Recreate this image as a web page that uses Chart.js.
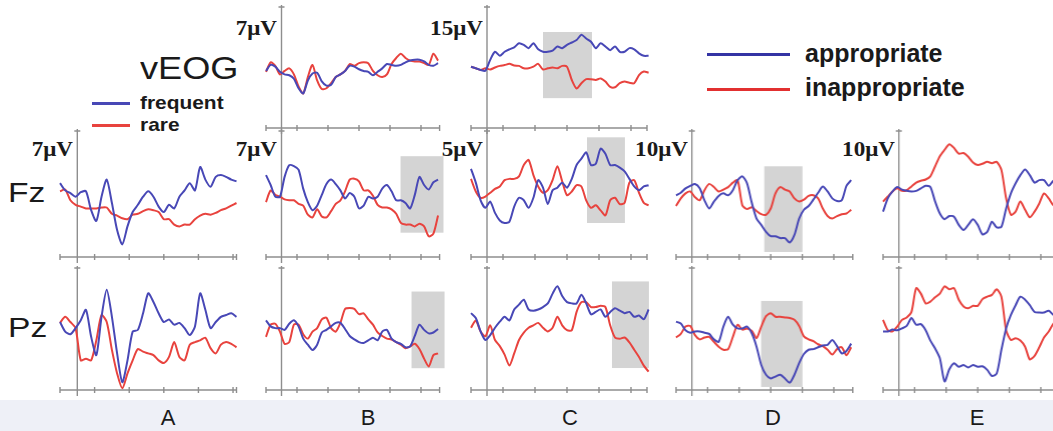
<!DOCTYPE html>
<html>
<head>
<meta charset="utf-8">
<title>ERP frequent/rare, appropriate/inappropriate</title>
<script src="https://cdn.jsdelivr.net/npm/chart.js@4.4.1/dist/chart.umd.min.js"></script>
<style>
  html, body { margin: 0; padding: 0; background: #fff; }
  #fig { position: relative; width: 1053px; height: 431px; overflow: hidden; background: #fff; font-family: "Liberation Sans", Arial, sans-serif; color: #1a1a1a; }
  .panel { position: absolute; }
  .lbl { position: absolute; white-space: nowrap; }
  .scale { font: bold 21px "Liberation Serif", "Times New Roman", serif; text-align: right; width: 70px; line-height: 22px; transform: scaleX(1.1); transform-origin: right center; }
  .row { font-size: 28px; line-height: 30px; transform: scaleX(1.2); transform-origin: left center; }
  .leg { font-weight: bold; }
  .sw { position: absolute; height: 3px; }
  .foot { position: absolute; left: 0; top: 400px; width: 1053px; height: 31px; background: #eef0f7; }
  .col { font-size: 22px; line-height: 24px; width: 40px; text-align: center; }
</style>
</head>
<body>
<div id="fig"></div>
<script>
// time points (ms), shared by every trace
const times = [-100, -70, -40, -10, 20, 50, 80, 110, 140, 170, 200, 230, 260, 290, 320, 350, 380, 410, 440, 470,
  500, 530, 560, 590, 620, 650, 680, 710, 740, 770, 800, 830, 860, 890, 920, 950, 980, 1010];
const xTicks = [-100, 0, 100, 300, 500, 700, 900];

// column A: frequent (blue) vs rare (red), µV
const fzA_frequent = [1.2, 0.4, 0.1, -0.3, 0.2, 0.3, -1.8, -3.0, -0.3, 1.6, -1.0, -4.0, -5.6, -3.6, -2.0, -1.2, -0.3, 0.3, -0.3, -1.4, -2.0, -1.2, -1.6, -0.3, 0.4, 1.2, 0.4, 3.0, 1.6, 0.8, 1.9, 2.1, 1.9, 1.6, 1.4];
const fzA_rare = [0.3, 0.5, -0.7, -1.2, -1.4, -1.6, -1.6, -1.6, -1.5, -1.5, -2.2, -2.4, -2.7, -2.8, -2.3, -2.2, -1.9, -1.7, -1.8, -2.0, -2.8, -2.8, -3.4, -3.6, -3.4, -3.4, -2.8, -2.4, -2.2, -2.3, -2.1, -1.8, -1.6, -1.3, -1.0];
const pzA_frequent = [0.8, -0.3, -0.6, 0.1, 1.0, 2.2, -0.9, -3.0, 1.4, 4.5, 1.4, -2.8, -6.1, -3.6, -0.3, -0.1, 1.8, 4.1, 3.1, 1.8, 0.8, 1.1, 0.5, 0.7, 0.1, -0.7, 0.3, 4.1, 2.2, 0.1, 0.8, 1.4, 1.6, 1.8, 1.4];
const pzA_rare = [0.7, 1.4, 0.8, 0.1, -3.6, -3.4, -3.6, -1.3, 1.6, 0.8, -2.4, -5.1, -6.8, -5.1, -3.6, -2.3, -2.6, -2.8, -3.0, -3.6, -3.9, -3.2, -1.5, -3.2, -3.6, -1.8, -1.5, -1.3, -1.0, -2.2, -2.8, -1.8, -1.5, -1.7, -2.1];

// columns B-E: appropriate (blue) vs inappropriate (red), µV
const veogB_appr = [-0.4, 0.3, 0.1, -0.5, -0.8, -0.9, -1.3, -2.4, -3.0, -1.5, -0.7, -0.6, -1.6, -2.1, -2.0, -1.1, -0.8, -0.4, 0.2, 0.1, -0.2, -0.4, -0.5, -0.9, -0.5, -0.1, 0.4, 0.3, 0.2, 0.3, 0.6, 0.8, 0.9, 0.9, 0.7, 0.3, 0.2, 0.5];
const veogB_inappr = [-0.5, 0.6, 0.2, -0.8, -0.4, -0.1, -0.8, -2.2, -3.0, -1.1, 0.3, -1.5, -2.5, -2.4, -1.8, -1.1, -0.8, -0.4, 0.4, 0.2, 0.5, 0.6, 0.5, -0.4, -0.9, -1.1, -0.8, 0.4, 1.1, 1.6, 1.1, 0.8, 0.7, 0.7, 0.5, 0.3, 1.6, 0.8];
const veogC_appr = [0.2, -0.2, -0.6, -0.8, 1.9, 3.9, 2.9, 3.9, 4.5, 5.0, 6.0, 5.6, 4.8, 6.0, 4.5, 3.9, 3.9, 4.2, 5.2, 4.8, 5.6, 6.2, 6.8, 8.1, 7.2, 6.4, 4.8, 6.0, 5.2, 4.3, 5.2, 3.9, 3.9, 4.8, 4.5, 3.5, 2.9, 2.9];
const veogC_inappr = [0.2, -0.2, -0.6, -0.2, -0.5, 0.0, 0.4, 0.6, 0.9, 0.5, 0.4, -0.2, -0.2, 0.2, 0.9, -0.5, -0.2, 0.0, -0.2, 0.4, 0.2, -3.1, -5.2, -3.9, -2.9, -2.9, -3.1, -2.7, -3.5, -4.8, -4.9, -3.9, -3.5, -3.8, -3.9, -1.9, -1.0, -1.3];

const fzB_appr = [2.1, 1.0, -0.3, -0.3, 1.9, 3.2, 3.1, 2.7, 0.6, -0.9, -1.8, -1.3, -0.1, 1.1, 1.6, 1.1, 0.4, -0.5, 0.1, -0.3, -1.6, -1.3, -0.3, -0.5, -0.3, 0.6, 1.0, 0.3, -0.7, -0.7, -1.0, -1.6, -0.1, 1.9, 1.0, 0.5, 1.3, 1.6];
const fzB_inappr = [-0.9, 0.4, -0.1, -0.3, -0.6, -0.7, -0.7, -1.1, -1.3, -2.3, -2.6, -1.7, -2.5, -2.6, -1.9, -1.1, -0.7, 0.3, 1.6, 1.7, 1.4, 0.4, 0.4, -0.2, -1.2, -1.5, -1.5, -1.7, -2.2, -3.2, -3.4, -3.4, -3.6, -3.3, -3.6, -4.7, -4.4, -2.4];
const pzB_appr = [1.0, 0.3, 0.1, 0.1, -0.1, 0.6, 1.0, 0.3, -1.1, -1.8, -2.4, -1.8, -0.4, -0.1, 0.3, 0.7, 0.7, 0.0, -0.8, -1.2, -1.5, -1.6, -1.3, -1.0, -1.3, -0.3, -0.1, -1.1, -1.5, -1.7, -2.1, -2.0, -0.8, 0.5, -0.1, -0.5, -0.4, 0.0];
const pzB_inappr = [-0.9, 0.5, 0.6, -0.3, -1.7, -1.5, 0.5, 0.5, -0.6, -1.1, -0.3, 0.1, 1.1, 1.3, 0.1, -0.3, 0.7, 2.3, 2.4, 2.3, 1.7, 1.8, 1.1, 0.5, -0.4, -0.8, -1.1, -1.2, -1.5, -1.8, -2.2, -2.0, -1.7, -2.3, -3.4, -4.3, -3.0, -2.8];

const fzC_appr = [2.0, 0.9, -0.5, -1.1, -0.6, -1.5, -2.1, -2.3, -2.2, -1.0, -0.3, -0.5, -1.1, -0.3, 1.1, 0.5, -0.8, 0.3, 0.5, 0.9, 0.5, 1.2, 2.3, 2.8, 3.3, 2.3, 2.4, 3.6, 3.2, 2.3, 2.3, 2.1, 1.8, 1.2, 0.6, 0.3, 0.6, 0.7];
const fzC_inappr = [1.2, 0.2, -0.3, -0.2, 0.1, 0.4, 0.6, 1.1, 1.2, 1.2, 1.4, 2.3, 2.7, 1.5, 0.6, 0.1, 0.3, 1.1, 2.2, 1.0, -0.1, 0.2, 0.7, 0.6, -0.5, -1.1, -0.9, -1.3, -1.7, -0.5, -0.3, -0.8, -0.7, 0.9, 1.1, 0.1, -0.7, -0.9];
const pzC_appr = [1.3, 0.9, -0.2, -0.9, -0.5, 0.1, 0.6, 1.0, 0.7, 1.6, 2.0, 2.4, 1.6, 1.5, 1.6, 1.8, 2.1, 2.9, 3.5, 2.7, 2.2, 2.1, 2.1, 2.8, 2.1, 1.2, 1.4, 1.6, 1.0, 1.4, 1.7, 1.5, 1.3, 1.4, 1.0, 1.1, 0.8, 1.6];
const pzC_inappr = [0.1, 0.7, -0.2, -0.6, 0.3, -0.9, -1.4, -2.1, -3.0, -2.0, -0.9, -0.3, 0.1, 0.3, 0.5, 0.1, -0.2, 0.1, 1.0, 0.3, -0.1, -0.1, 1.4, 2.2, 2.2, 1.8, 1.8, 1.9, 1.8, 0.3, -0.7, -0.8, -0.7, -1.1, -1.7, -2.3, -3.0, -3.5];

const fzD_appr = [-0.2, 0.2, 0.9, 1.3, 1.6, 0.9, -1.0, -2.3, -1.2, -0.3, 0.1, -0.2, 0.6, 2.2, 2.8, 1.7, -1.4, -3.9, -4.9, -6.0, -6.7, -6.7, -7.0, -7.0, -7.7, -6.5, -3.9, -2.5, -1.9, -0.9, 0.2, 1.2, 0.4, -0.7, -1.1, -1.0, 1.3, 2.2];
const fzD_inappr = [-1.9, -0.7, 0.1, 0.4, -0.5, -1.0, 0.6, 1.6, 1.1, 0.4, 0.7, 1.1, 1.8, 2.2, -1.8, -2.4, -2.1, -2.7, -3.2, -3.3, -2.3, 0.1, 1.1, 0.7, 0.4, -0.7, -1.2, -0.9, -0.3, -0.2, -0.7, -2.3, -3.5, -3.9, -3.5, -3.2, -3.1, -2.5];
const pzD_appr = [1.2, 0.9, -0.2, -0.6, -0.4, -0.4, -0.6, -0.8, -1.7, -2.1, 0.4, 2.0, 0.7, 0.1, 0.1, 0.4, -0.7, -2.9, -5.9, -7.5, -8.1, -7.8, -7.5, -8.1, -8.8, -7.5, -5.6, -4.1, -3.4, -3.3, -3.0, -2.7, -2.6, -1.8, -2.8, -4.0, -3.6, -2.4];
const pzD_inappr = [-1.4, -0.8, 0.4, 0.5, -1.0, -1.7, -1.4, -1.3, -2.1, -2.9, -3.4, -3.3, -1.3, 0.7, -0.1, 0.1, -0.3, -1.5, 0.4, 2.1, 2.6, 2.0, 2.0, 1.9, 1.8, 1.5, 0.5, -1.2, -1.7, -2.0, -2.5, -2.8, -3.4, -4.2, -3.3, -3.0, -4.3, -3.0];

const fzE_appr = [-2.8, -0.7, 0.4, 1.1, 0.7, 0.5, 0.4, 0.5, 0.9, 1.3, 1.1, -1.2, -3.1, -4.0, -3.5, -3.6, -4.9, -5.7, -4.9, -4.0, -4.9, -6.4, -6.0, -4.4, -5.3, -5.2, -2.3, 0.1, 1.7, 3.0, 3.9, 3.0, 1.8, 2.2, 2.2, 1.3, 2.1, 2.0];
const fzE_inappr = [-1.2, -0.4, 0.4, 0.9, 0.5, 0.6, 1.2, 1.8, 2.1, 2.3, 2.8, 4.4, 6.0, 7.0, 7.9, 7.3, 6.4, 6.5, 5.9, 5.0, 4.6, 4.8, 5.1, 4.9, 5.1, 3.8, -0.7, -3.3, -2.8, -1.2, -2.5, -3.7, -2.8, -1.5, 0.1, -0.7, -1.8, -2.0];
const pzE_appr = [-0.4, -0.4, -0.1, -0.2, 0.1, 0.5, 1.8, 0.7, 0.8, -0.2, -1.9, -3.2, -4.8, -8.6, -6.6, -5.6, -6.2, -5.9, -6.3, -5.9, -6.2, -6.1, -6.7, -7.7, -7.3, -3.4, 0.1, 2.3, 3.9, 5.3, 4.8, 3.9, 2.8, 2.7, 2.7, 3.0, 2.3, 2.0];
const pzE_inappr = [1.5, -0.2, -0.4, 0.4, 1.5, 1.9, 2.8, 6.7, 5.8, 4.2, 4.5, 5.2, 5.8, 7.0, 6.5, 6.7, 4.8, 3.7, 3.4, 3.8, 3.8, 4.9, 5.3, 5.6, 6.5, 5.3, -0.2, -1.8, -1.5, -1.9, -2.9, -5.0, -4.4, -3.0, -1.4, -0.4, 0.9, 1.5];

// shaded analysis windows: [fromMs, toMs, lowµV, highµV]
const winVeogC = [350, 656, -7.6, 8.8];
const winFzB = [768, 1045, -4.3, 4.2];
const winPzB = [839, 1052, -4.5, 4.3];
const winFzC = [625, 862, -2.3, 4.5];
const winPzC = [781, 1012, -3.2, 3.9];
const winFzD = [459, 701, -9.2, 4.4];
const winPzD = [439, 701, -9.5, 4.6];

const ErpFigure = {
  BLUE: '#4848b6',
  RED: '#e8433e',
  PAD: 10,
  // pixel layout of the columns (axis position, px per ms, end of epoch) and rows
  cols: {
    A: { axisX: 77, k: 0.173, xMax: 920 },
    B: { axisX: 281, k: 0.155, xMax: 1020 },
    C: { axisX: 487, k: 0.16, xMax: 1000 },
    D: { axisX: 692, k: 0.157, xMax: 1020 },
    E: { axisX: 899, k: 0.157, xMax: 1020 }
  },
  rows: {
    veog: { top: 7, bottom: 128 },
    fz: { top: 131, bottom: 257 },
    pz: { top: 268, bottom: 390 }
  },

  panels() {
    return [
      { col: 'B', row: 'veog', scale: 7, blue: veogB_appr, red: veogB_inappr },
      { col: 'C', row: 'veog', scale: 15, blue: veogC_appr, red: veogC_inappr, box: winVeogC },
      { col: 'A', row: 'fz', scale: 7, blue: fzA_frequent, red: fzA_rare },
      { col: 'B', row: 'fz', scale: 7, blue: fzB_appr, red: fzB_inappr, box: winFzB },
      { col: 'C', row: 'fz', scale: 5, blue: fzC_appr, red: fzC_inappr, box: winFzC },
      { col: 'D', row: 'fz', scale: 10, blue: fzD_appr, red: fzD_inappr, box: winFzD },
      { col: 'E', row: 'fz', scale: 10, blue: fzE_appr, red: fzE_inappr },
      { col: 'A', row: 'pz', scale: 7, blue: pzA_frequent, red: pzA_rare },
      { col: 'B', row: 'pz', scale: 7, blue: pzB_appr, red: pzB_inappr, box: winPzB },
      { col: 'C', row: 'pz', scale: 5, blue: pzC_appr, red: pzC_inappr, box: winPzC },
      { col: 'D', row: 'pz', scale: 10, blue: pzD_appr, red: pzD_inappr, box: winPzD },
      { col: 'E', row: 'pz', scale: 10, blue: pzE_appr, red: pzE_inappr }
    ];
  },

  // draws shaded window + the cross-style axes under the traces
  axesPlugin: {
    id: 'erpAxes',
    beforeDatasetsDraw(chart, args, opts) {
      const { ctx, chartArea: a, scales: { x, y } } = chart;
      ctx.save();
      if (opts.box) {
        const [t0, t1, v0, v1] = opts.box;
        const px0 = x.getPixelForValue(t0), px1 = x.getPixelForValue(t1);
        const py0 = y.getPixelForValue(v1), py1 = y.getPixelForValue(v0);
        ctx.fillStyle = '#d4d4d4';
        ctx.fillRect(px0, py0, px1 - px0, py1 - py0);
      }
      ctx.strokeStyle = '#8e8e8e';
      ctx.lineWidth = 1.4;
      const x0 = x.getPixelForValue(0);
      ctx.beginPath();
      ctx.moveTo(x0, a.top - 2); ctx.lineTo(x0, a.bottom + 6);
      ctx.moveTo(x0 - 3, a.top); ctx.lineTo(x0 + 3, a.top);
      ctx.moveTo(a.left, a.bottom); ctx.lineTo(a.right, a.bottom);
      xTicks.concat([x.max]).forEach(t => {
        const px = x.getPixelForValue(t);
        ctx.moveTo(px, a.bottom - 3); ctx.lineTo(px, a.bottom + 3);
      });
      ctx.stroke();
      ctx.restore();
    }
  },

  series(vals, color) {
    return {
      data: vals.map((v, i) => ({ x: times[i], y: v })),
      borderColor: color, borderWidth: 2, pointRadius: 0, tension: 0.25, clip: false, fill: false
    };
  },

  render() {
    const fig = document.getElementById('fig');
    fig.innerHTML = this.html();
    this.panels().forEach(p => this.panelChart(fig, p));
  },

  html() {
    const c = this.cols, r = this.rows;
    const scaleLbl = (col, row, txt) =>
      `<div class="lbl scale" style="left:${c[col].axisX - 74}px;top:${r[row].top + (row === 'veog' ? 10 : 7)}px">${txt}</div>`;
    return `
      <div class="foot"></div>
      <div class="lbl row" style="left:140px;top:52px;font-size:32px;line-height:32px;transform:scaleX(1.13)">vEOG</div>
      <div class="lbl row" style="left:8px;top:178px">Fz</div>
      <div class="lbl row" style="left:8px;top:313px">Pz</div>

      <div class="sw" style="left:92px;top:102px;width:38px;background:${this.BLUE}"></div>
      <div class="lbl leg" style="left:140px;top:92px;font-size:19px;line-height:22px;transform:scaleX(1.1);transform-origin:left center">frequent</div>
      <div class="sw" style="left:92px;top:124px;width:38px;background:${this.RED}"></div>
      <div class="lbl leg" style="left:140px;top:114px;font-size:19px;line-height:22px;transform:scaleX(1.1);transform-origin:left center">rare</div>

      <div class="sw" style="left:707px;top:53px;width:83px;background:#3434a4"></div>
      <div class="lbl leg" style="left:805px;top:39px;font-size:25px;line-height:28px">appropriate</div>
      <div class="sw" style="left:707px;top:88px;width:83px;background:#e23030"></div>
      <div class="lbl leg" style="left:805px;top:73px;font-size:25px;line-height:28px">inappropriate</div>

      ${scaleLbl('B', 'veog', '7μV')}
      ${scaleLbl('C', 'veog', '15μV')}
      ${scaleLbl('A', 'fz', '7μV')}
      ${scaleLbl('B', 'fz', '7μV')}
      ${scaleLbl('C', 'fz', '5μV')}
      ${scaleLbl('D', 'fz', '10μV')}
      ${scaleLbl('E', 'fz', '10μV')}

      ${['A', 'B', 'C', 'D', 'E'].map((l, i) =>
        `<div class="lbl col" style="left:${[148, 348, 550, 753, 957][i]}px;top:406px">${l}</div>`).join('')}`;
  },

  panelChart(fig, p) {
    const c = this.cols[p.col], r = this.rows[p.row], PAD = this.PAD;
    const left = c.axisX - 100 * c.k;
    const width = (c.xMax + 100) * c.k;
    const height = r.bottom - r.top;
    const box = document.createElement('div');
    box.className = 'panel';
    box.style.cssText = `left:${left - PAD}px;top:${r.top - PAD}px;width:${width + 2 * PAD}px;height:${height + 2 * PAD}px`;
    const cv = document.createElement('canvas');
    box.appendChild(cv);
    fig.appendChild(box);
    new Chart(cv, {
      type: 'line',
      data: { datasets: [this.series(p.blue, this.BLUE), this.series(p.red, this.RED)] },
      options: {
        responsive: true, maintainAspectRatio: false, animation: false, events: [],
        layout: { padding: PAD },
        plugins: { legend: { display: false }, tooltip: { enabled: false }, erpAxes: { box: p.box } },
        scales: {
          x: { type: 'linear', min: -100, max: c.xMax, display: false },
          y: { min: -p.scale, max: p.scale, display: false }
        }
      },
      plugins: [this.axesPlugin]
    });
  }
};

ErpFigure.render();
</script>
</body>
</html>
